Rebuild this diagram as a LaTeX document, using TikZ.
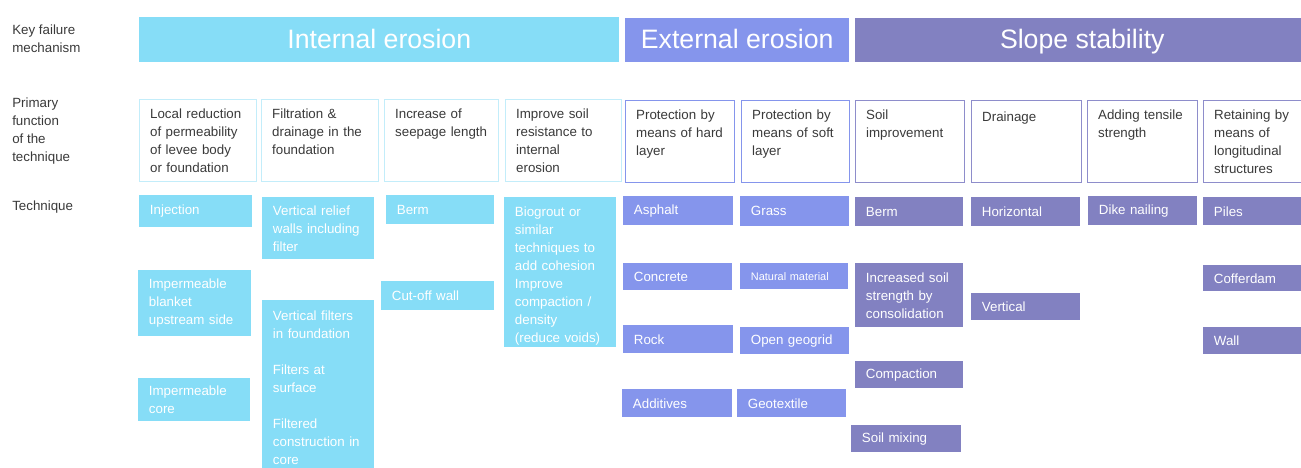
\documentclass[tikz,border=0pt]{standalone}
\usepackage{fontspec}
\setmainfont{Liberation Sans}

\definecolor{iecol}{HTML}{86DDF7}
\definecolor{eecol}{HTML}{8595EC}
\definecolor{sscol}{HTML}{8281C1}
\definecolor{ieline}{HTML}{C3EDFA}
\definecolor{ssline}{HTML}{8E8DCB}
\definecolor{txtgray}{HTML}{3A3A3A}

\newcommand{\bodyfont}{\fontsize{10}{13.5}\selectfont}

\tikzset{
  rowlabel/.style={anchor=west, align=left, text=txtgray, font=\bodyfont, inner sep=0},
  header/.style={anchor=north west, text=white, font=\fontsize{20}{24}\selectfont, inner sep=0,
    text height=14.5pt, text depth=1.5pt},
  func/.style={anchor=north west, draw=#1, line width=0.75pt, fill=white, align=left,
    text=txtgray, font=\bodyfont, inner xsep=8pt, inner ysep=4pt,
    text height=10pt, text depth=43.5pt},
  tech/.style={anchor=north west, fill=#1, align=left, text=white, font=\bodyfont,
    inner xsep=8pt, inner ysep=0pt},
}

\begin{document}
\begin{tikzpicture}[x=0.75pt,y=-0.75pt]
    \useasboundingbox[fill=white] (0,0) rectangle (1301,467);

    % row labels
    \node[rowlabel] (lkey) at (12,39) {Key failure\\mechanism};
    \node[rowlabel] (lfunc) at (12,131) {Primary\\function\\of the\\technique};
    \node[rowlabel] (ltech) at (12,207) {Technique};

    % key failure mechanisms
    \node[header, fill=iecol, minimum width=360pt, minimum height=33.75pt] (hie) at (139,17) {Internal erosion};
    \node[header, fill=eecol, minimum width=168pt, minimum height=33pt] (hee) at (625,18) {External erosion};
    \node[header, fill=sscol, minimum width=340.5pt, minimum height=33pt] (hss) at (855,18) {Slope stability};

    % primary functions
    \node[func=ieline, text width=71.75pt] (f1) at (139,99) {Local reduction\\of permeability\\of levee body\\or foundation};
    \node[func=ieline, text width=71.75pt] (f2) at (261,99) {Filtration \&\\drainage in the\\foundation};
    \node[func=ieline, text width=69.5pt] (f3) at (384,99) {Increase of\\seepage~length};
    \node[func=ieline, text width=71pt] (f4) at (505,99) {Improve soil\\resistance to\\internal\\erosion};
    \node[func=eecol, text width=65.75pt] (f5) at (625,100) {Protection by\\means~of~hard\\layer};
    \node[func=eecol, text width=65pt] (f6) at (741,100) {Protection by\\means~of~soft\\layer};
    \node[func=ssline, text width=65.75pt] (f7) at (855,100) {Soil\\improvement};
    \node[func=ssline, text width=66.5pt, text height=11.5pt, text depth=42pt] (f8) at (971,100) {Drainage};
    \node[func=ssline, text width=66.5pt] (f9) at (1087,100) {Adding~tensile\\strength};
    \node[func=ssline, text width=66.5pt] (f10) at (1203,100) {Retaining by\\means of\\longitudinal\\structures};

    % techniques: internal erosion
    \node[tech=iecol, text width=68.75pt, minimum height=24pt] (inj) at (139,195) {Injection};
    \node[tech=iecol, text width=68.75pt, minimum height=49.5pt] (blanket) at (138,270) {Impermeable\\blanket\\upstream~side};
    \node[tech=iecol, text width=68pt, minimum height=32.25pt] (core) at (138,378) {Impermeable\\core};
    \node[tech=iecol, text width=68pt, minimum height=46.5pt] (relief) at (262,197) {Vertical relief\\walls including\\filter};
    \node[tech=iecol, text width=68pt, minimum height=130.5pt] (filters) at (262,300)
        {Vertical filters\\in foundation\\[13.5pt]Filters at\\surface\\[13.5pt]Filtered\\construction~in\\core};
    \node[tech=iecol, text width=65pt, minimum height=21.75pt] (berm) at (386,195) {Berm};
    \node[tech=iecol, text width=68.75pt, minimum height=21.75pt] (cutoff) at (381,281) {Cut-off wall};
    \node[tech=iecol, text width=68pt, minimum height=112.5pt, text height=13pt] (biogrout) at (504,197)
        {Biogrout or\\similar\\techniques to\\add cohesion\\Improve\\compaction /\\density\\(reduce~voids)};

    % techniques: external erosion
    \node[tech=eecol, text width=66.5pt, minimum height=21.75pt] (asphalt) at (623,196) {Asphalt};
    \node[tech=eecol, text width=65.75pt, minimum height=20.25pt] (concrete) at (623,263) {Concrete};
    \node[tech=eecol, text width=66.5pt, minimum height=21pt] (rock) at (623,325) {Rock};
    \node[tech=eecol, text width=66.5pt, minimum height=21pt] (additives) at (622,389) {Additives};
    \node[tech=eecol, text width=65.75pt, minimum height=22.5pt] (grass) at (740,196) {Grass};
    \node[tech=eecol, text width=65pt, minimum height=19.5pt, font=\fontsize{8.2}{9.5}\selectfont] (natural) at (740,263) {Natural~material};
    \node[tech=eecol, text width=65.75pt, minimum height=20.25pt] (geogrid) at (740,327) {Open geogrid};
    \node[tech=eecol, text width=65.75pt, minimum height=21pt] (geotextile) at (737,389) {Geotextile};

    % techniques: slope stability
    \node[tech=sscol, text width=65pt, minimum height=21.75pt] (sberm) at (855,197) {Berm};
    \node[tech=sscol, text width=65pt, minimum height=48pt] (consol) at (855,263) {Increased soil\\strength by\\consolidation};
    \node[tech=sscol, text width=65pt, minimum height=20.25pt] (compact) at (855,361) {Compaction};
    \node[tech=sscol, text width=66.5pt, minimum height=20.25pt] (mixing) at (851,425) {Soil mixing};
    \node[tech=sscol, text width=65.75pt, minimum height=21.75pt] (horiz) at (971,197) {Horizontal};
    \node[tech=sscol, text width=65.75pt, minimum height=20.25pt] (vert) at (971,293) {Vertical};
    \node[tech=sscol, text width=65.75pt, minimum height=21.75pt] (nailing) at (1088,196) {Dike nailing};
    \node[tech=sscol, text width=66.5pt, minimum height=21pt] (piles) at (1203,197) {Piles};
    \node[tech=sscol, text width=66.5pt, minimum height=19.5pt] (cofferdam) at (1203,265) {Cofferdam};
    \node[tech=sscol, text width=66.5pt, minimum height=20.25pt] (wall) at (1203,327) {Wall};
\end{tikzpicture}
\end{document}
